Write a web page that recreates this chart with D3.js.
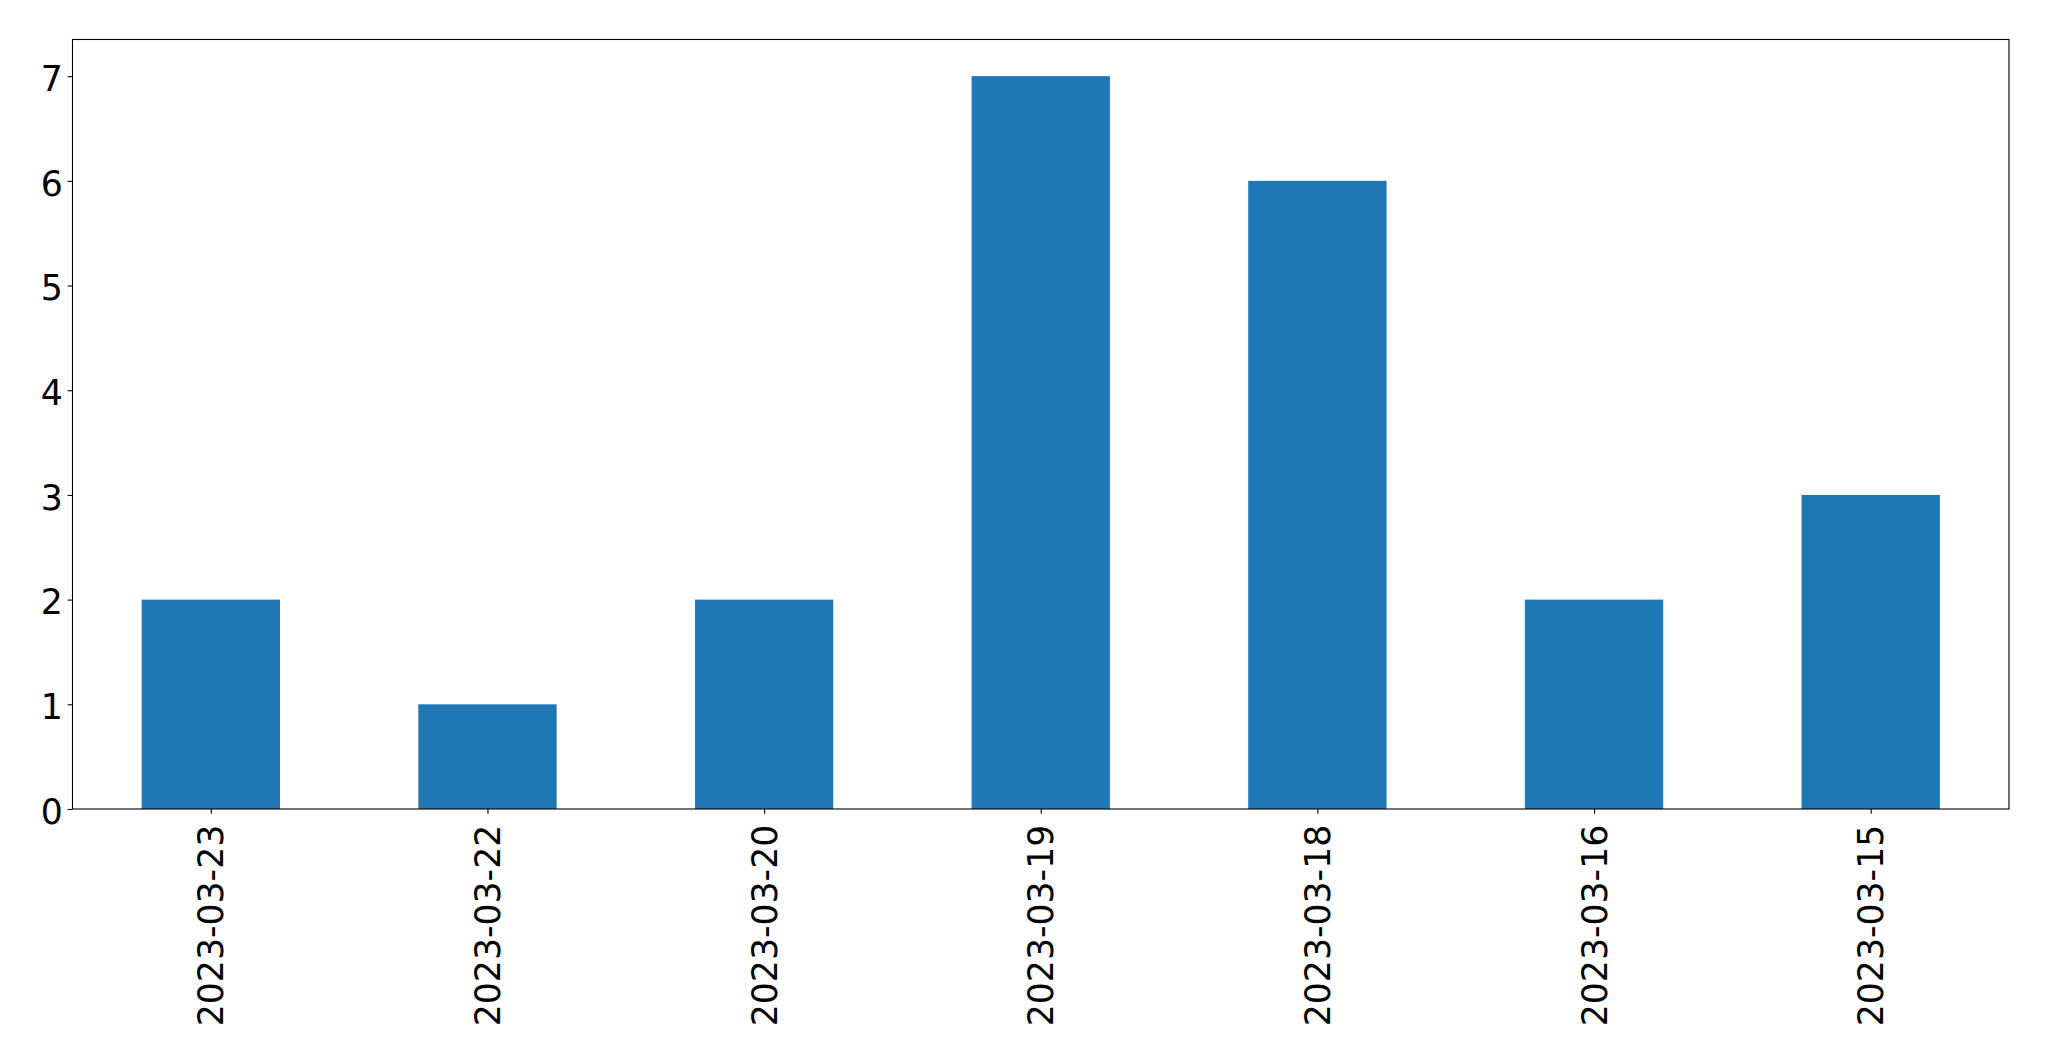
<!DOCTYPE html>
<html>
<head>
<meta charset="utf-8">
<script src="https://cdn.jsdelivr.net/npm/d3@7"></script>
<style>
  html, body { margin: 0; padding: 0; background: #fff; }
  svg { display: block; }
</style>
</head>
<body>
<svg id="chart" width="2049" height="1061"></svg>
<script>
const categories = ["2023-03-23", "2023-03-22", "2023-03-20", "2023-03-19", "2023-03-18", "2023-03-16", "2023-03-15"];
const values = [2, 1, 2, 7, 6, 2, 3];
const yTicks = [0, 1, 2, 3, 4, 5, 6, 7];

const W = 2049, H = 1061;
const margin = { left: 72.5, right: 2049 - 2009, top: 39.5, bottom: 1061 - 809 };
const plotW = W - margin.left - margin.right;
const plotH = H - margin.top - margin.bottom;
const fontSize = 34.7;
const tickLen = 4.86, tickPad = 4.86;

const svg = d3.select("#chart");
const g = svg.append("g").attr("transform", `translate(${margin.left},${margin.top})`);

const x = d3.scaleLinear().domain([-0.5, categories.length - 0.5]).range([0, plotW]);
const y = d3.scaleLinear().domain([0, d3.max(values) * 1.05]).range([plotH, 0]);
const barW = 0.5;

g.selectAll("rect.bar")
  .data(values)
  .join("rect")
  .attr("class", "bar")
  .attr("x", (d, i) => x(i - barW / 2))
  .attr("width", (d, i) => x(i + barW / 2) - x(i - barW / 2))
  .attr("y", d => y(d))
  .attr("height", d => y(0) - y(d))
  .attr("fill", "#1f77b4");

// Frame
g.append("rect")
  .attr("x", 0).attr("y", 0)
  .attr("width", plotW).attr("height", plotH)
  .attr("fill", "none")
  .attr("stroke", "#000")
  .attr("stroke-width", 1.1);

// Y axis
const yAxis = d3.axisLeft(y).tickValues(yTicks).tickFormat(d3.format("d"))
  .tickSize(tickLen).tickPadding(tickPad);
const ya = g.append("g").call(yAxis);
ya.select(".domain").remove();
ya.selectAll(".tick line").attr("stroke", "#000").attr("stroke-width", 1.1);
ya.selectAll(".tick text")
  .attr("font-family", "DejaVu Sans")
  .attr("font-size", fontSize)
  .attr("fill", "#000")
  .attr("dy", "0.41em");

// X axis
const xAxis = d3.axisBottom(x).tickValues(d3.range(categories.length))
  .tickFormat(i => categories[i]).tickSize(tickLen).tickPadding(tickPad);
const xa = g.append("g").attr("transform", `translate(0,${plotH})`).call(xAxis);
xa.select(".domain").remove();
xa.selectAll(".tick line").attr("stroke", "#000").attr("stroke-width", 1.1);
xa.selectAll(".tick text")
  .attr("font-family", "DejaVu Sans")
  .attr("font-size", fontSize)
  .attr("fill", "#000")
  .attr("transform", `translate(0,${tickLen + tickPad + 6}) rotate(-90)`)
  .attr("x", 0).attr("y", 0)
  .attr("dy", "0.35em")
  .attr("text-anchor", "end");
</script>
</body>
</html>
